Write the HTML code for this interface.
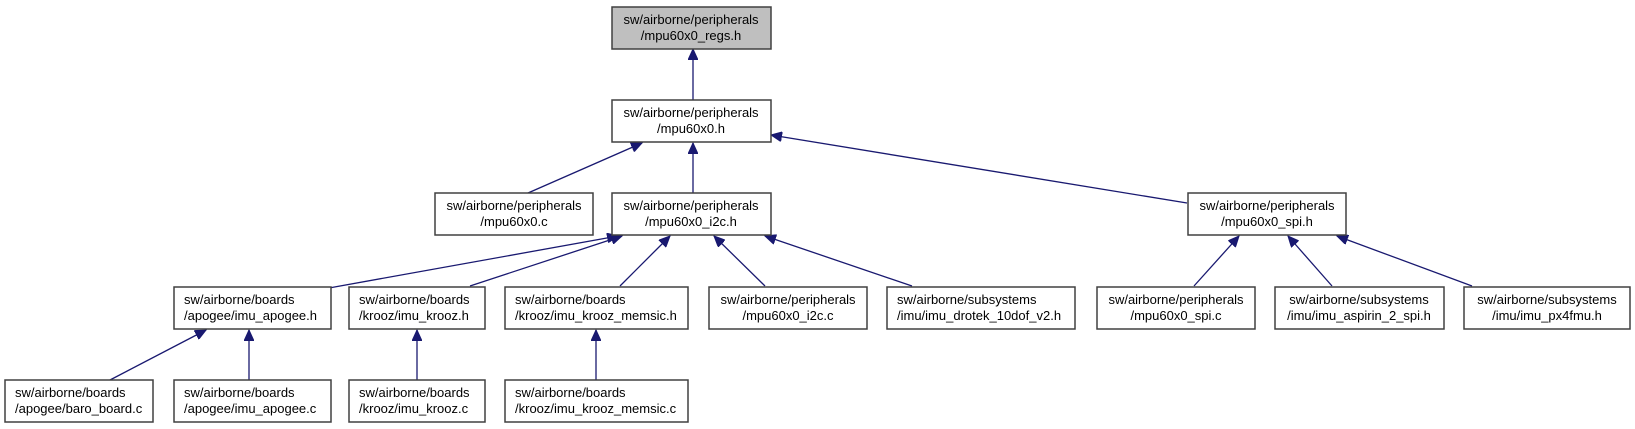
<!DOCTYPE html>
<html><head><meta charset="utf-8"><style>
html,body{margin:0;padding:0;background:#fff;}
svg{display:block;}
text{font-family:"Liberation Sans",Arial,sans-serif;font-size:13px;fill:#000;}
rect{stroke:#404040;stroke-width:1.5;fill:#fff;}
line{stroke:#191970;stroke-width:1.3;}
</style></head><body>
<svg width="1635" height="429" viewBox="0 0 1635 429" xmlns="http://www.w3.org/2000/svg">
<defs><marker id="a" markerWidth="12" markerHeight="10" refX="11" refY="5" orient="auto" markerUnits="userSpaceOnUse"><path d="M0,0 L11,5 L0,10 Z" fill="#191970" stroke="#191970"/></marker></defs>
<g>
<line x1="693" y1="100" x2="693" y2="49" marker-end="url(#a)"/>
<line x1="528" y1="193" x2="642" y2="143" marker-end="url(#a)"/>
<line x1="693" y1="193" x2="693" y2="143" marker-end="url(#a)"/>
<line x1="1187" y1="203" x2="771" y2="135" marker-end="url(#a)"/>
<line x1="329" y1="288" x2="618" y2="236" marker-end="url(#a)"/>
<line x1="470" y1="286" x2="622" y2="236" marker-end="url(#a)"/>
<line x1="620" y1="286" x2="670" y2="236" marker-end="url(#a)"/>
<line x1="765" y1="286" x2="714" y2="236" marker-end="url(#a)"/>
<line x1="912" y1="286" x2="765" y2="236" marker-end="url(#a)"/>
<line x1="1194" y1="286" x2="1239" y2="236" marker-end="url(#a)"/>
<line x1="1332" y1="286" x2="1288" y2="236" marker-end="url(#a)"/>
<line x1="1472" y1="286" x2="1337" y2="236" marker-end="url(#a)"/>
<line x1="110" y1="380" x2="206" y2="330" marker-end="url(#a)"/>
<line x1="249" y1="380" x2="249" y2="330" marker-end="url(#a)"/>
<line x1="417" y1="380" x2="417" y2="330" marker-end="url(#a)"/>
<line x1="596" y1="380" x2="596" y2="330" marker-end="url(#a)"/>
</g>
<g text-anchor="middle">
<rect x="612" y="7" width="159" height="42" style="fill:#bfbfbf"/><text x="691" y="24">sw/airborne/peripherals</text><text x="691" y="40">/mpu60x0_regs.h</text>
<rect x="612" y="100" width="159" height="42"/><text x="691" y="117">sw/airborne/peripherals</text><text x="691" y="133">/mpu60x0.h</text>
<rect x="435" y="193" width="158" height="42"/><text x="514" y="210">sw/airborne/peripherals</text><text x="514" y="226">/mpu60x0.c</text>
<rect x="612" y="193" width="159" height="42"/><text x="691" y="210">sw/airborne/peripherals</text><text x="691" y="226">/mpu60x0_i2c.h</text>
<rect x="1188" y="193" width="158" height="42"/><text x="1267" y="210">sw/airborne/peripherals</text><text x="1267" y="226">/mpu60x0_spi.h</text>
</g>
<g>
<rect x="174" y="287" width="157" height="42"/><text x="184" y="304">sw/airborne/boards</text><text x="184" y="320">/apogee/imu_apogee.h</text>
<rect x="349" y="287" width="136" height="42"/><text x="359" y="304">sw/airborne/boards</text><text x="359" y="320">/krooz/imu_krooz.h</text>
<rect x="505" y="287" width="183" height="42"/><text x="515" y="304">sw/airborne/boards</text><text x="515" y="320">/krooz/imu_krooz_memsic.h</text>
<rect x="887" y="287" width="188" height="42"/><text x="897" y="304">sw/airborne/subsystems</text><text x="897" y="320">/imu/imu_drotek_10dof_v2.h</text>
<rect x="5" y="380" width="148" height="42"/><text x="15" y="397">sw/airborne/boards</text><text x="15" y="413">/apogee/baro_board.c</text>
<rect x="174" y="380" width="157" height="42"/><text x="184" y="397">sw/airborne/boards</text><text x="184" y="413">/apogee/imu_apogee.c</text>
<rect x="349" y="380" width="136" height="42"/><text x="359" y="397">sw/airborne/boards</text><text x="359" y="413">/krooz/imu_krooz.c</text>
<rect x="505" y="380" width="183" height="42"/><text x="515" y="397">sw/airborne/boards</text><text x="515" y="413">/krooz/imu_krooz_memsic.c</text>
</g>
<g text-anchor="middle">
<rect x="709" y="287" width="158" height="42"/><text x="788" y="304">sw/airborne/peripherals</text><text x="788" y="320">/mpu60x0_i2c.c</text>
<rect x="1097" y="287" width="158" height="42"/><text x="1176" y="304">sw/airborne/peripherals</text><text x="1176" y="320">/mpu60x0_spi.c</text>
<rect x="1275" y="287" width="169" height="42"/><text x="1359" y="304">sw/airborne/subsystems</text><text x="1359" y="320">/imu/imu_aspirin_2_spi.h</text>
<rect x="1464" y="287" width="166" height="42"/><text x="1547" y="304">sw/airborne/subsystems</text><text x="1547" y="320">/imu/imu_px4fmu.h</text>
</g>
</svg>
</body></html>
